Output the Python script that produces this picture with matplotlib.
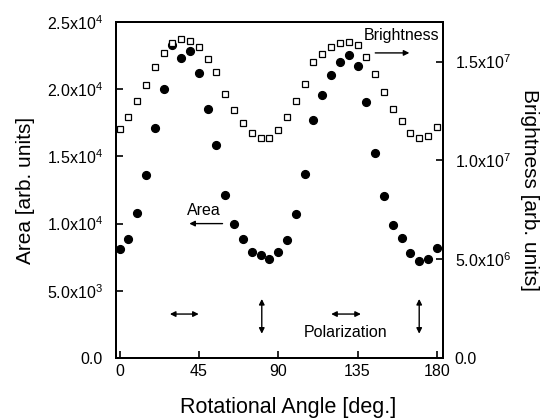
import matplotlib

matplotlib.use("Agg")

import matplotlib.pyplot as plt

plt.rcParams["font.family"] = ["Liberation Sans", "DejaVu Sans"]
plt.rcParams["mathtext.default"] = "regular"

# rotational angle in degrees, 5 deg steps
angle = [0, 5, 10, 15, 20, 25, 30, 35, 40, 45, 50, 55, 60, 65, 70, 75, 80, 85,
         90, 95, 100, 105, 110, 115, 120, 125, 130, 135, 140, 145, 150, 155,
         160, 165, 170, 175, 180]

# area [arb. units], filled circles, left axis
area = [8080, 8880, 10770, 13610, 17130, 20050, 23300, 22340, 22870, 21220,
        18550, 15860, 12120, 10000, 8830, 7910, 7630, 7380, 7910, 8770, 10700,
        13690, 17680, 19600, 21040, 21990, 22540, 21710, 19050, 15260, 12090,
        9900, 8920, 7830, 7230, 7360, 8190]

# brightness [arb. units], open squares, right axis
brightness = [1.157e7, 1.217e7, 1.300e7, 1.380e7, 1.471e7, 1.544e7, 1.592e7,
              1.616e7, 1.606e7, 1.576e7, 1.514e7, 1.446e7, 1.337e7, 1.256e7,
              1.188e7, 1.136e7, 1.113e7, 1.113e7, 1.153e7, 1.217e7, 1.298e7,
              1.387e7, 1.496e7, 1.539e7, 1.572e7, 1.594e7, 1.601e7, 1.586e7,
              1.525e7, 1.438e7, 1.348e7, 1.261e7, 1.198e7, 1.140e7, 1.113e7,
              1.121e7, 1.168e7]

x_ticks = [0, 45, 90, 135, 180]
area_ticks = [0, 5000, 10000, 15000, 20000, 25000]
area_labels = ["0.0", "5.0x10$^3$", "1.0x10$^4$", "1.5x10$^4$", "2.0x10$^4$", "2.5x10$^4$"]
bright_ticks = [0, 5e6, 1e7, 1.5e7]
bright_labels = ["0.0", "5.0x10$^6$", "1.0x10$^7$", "1.5x10$^7$"]

fig = plt.figure(figsize=(5.45, 4.19), dpi=100)
ax = fig.add_axes([116 / 545, 1 - 358 / 419, (443 - 116) / 545, (358 - 22) / 419])
ax2 = ax.twinx()

ax.plot(angle, area, "o", color="black", markersize=5.6, linestyle="none")
ax2.plot(angle, brightness, "s", markerfacecolor="white", markeredgecolor="black",
         markeredgewidth=0.9, markersize=4.8, linestyle="none")

ax.set_xlim(-2, 183.5)
ax.set_ylim(0, 25000)
ax2.set_ylim(0, 1.7e7)

ax.set_xticks(x_ticks)
ax.set_yticks(area_ticks)
ax.set_yticklabels(area_labels)
ax2.set_yticks(bright_ticks)
ax2.set_yticklabels(bright_labels)

for a in (ax, ax2):
    a.tick_params(direction="in", length=5, width=1.2, labelsize=11.5)
    a.tick_params(axis="x", pad=4)
    for s in a.spines.values():
        s.set_linewidth(1.4)
ax.tick_params(axis="y", pad=9.5)
ax2.tick_params(axis="y", pad=8.5)

ax.set_xlabel("Rotational Angle [deg.]", fontsize=15.5, va="center")
ax.xaxis.set_label_coords(0.526, -0.146)
ax.set_ylabel("Area [arb. units]", fontsize=15, va="center")
ax.yaxis.set_label_coords(-0.278, 0.5)
ax2.set_ylabel("Brightness [arb. units]", fontsize=15, rotation=-90, va="center")
ax2.yaxis.set_label_coords(1.266, 0.5)

arrow = dict(arrowstyle="-|>", color="black", lw=1.0, mutation_scale=8)
darrow = dict(arrowstyle="<|-|>", color="black", lw=1.0, mutation_scale=8)

# labels for the two series
ax.text(160, 24000, "Brightness", fontsize=11.5, ha="center", va="center")
ax.annotate("", xy=(166, 22700), xytext=(143.5, 22700), arrowprops=arrow)
ax.text(48, 10950, "Area", fontsize=11.5, ha="center", va="center")
ax.annotate("", xy=(38, 10000), xytext=(60, 10000), arrowprops=arrow)

# polarization direction markers
ax.annotate("", xy=(46.5, 3270), xytext=(27, 3270), arrowprops=darrow)
ax.annotate("", xy=(80.7, 4600), xytext=(80.7, 1600), arrowprops=darrow)
ax.annotate("", xy=(138.5, 3270), xytext=(118.5, 3270), arrowprops=darrow)
ax.annotate("", xy=(170, 4600), xytext=(170, 1600), arrowprops=darrow)
ax.text(128, 1900, "Polarization", fontsize=11.5, ha="center", va="center")

fig.savefig("out.png", dpi=100)
